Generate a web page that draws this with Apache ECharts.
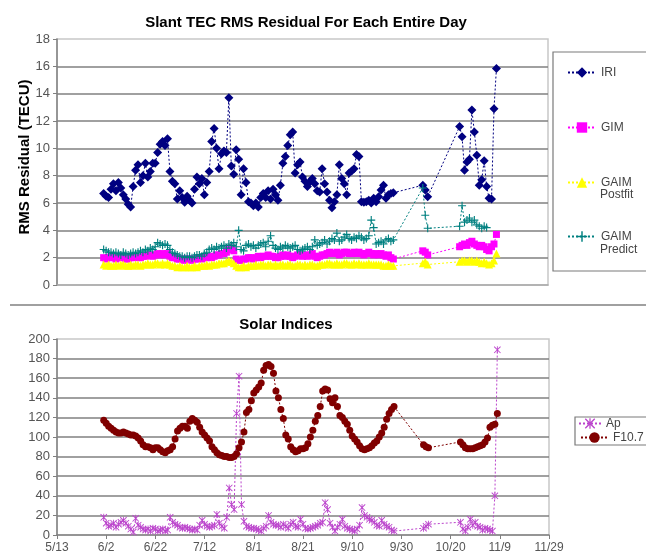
<!DOCTYPE html>
<html>
<head>
<meta charset="utf-8">
<script src="https://cdn.jsdelivr.net/npm/echarts@6/dist/echarts.min.js"></script>
<style>
  html, body { margin: 0; padding: 0; background: #fff; }
  #chart { width: 646px; height: 554px; }
</style>
</head>
<body>
<div id="chart"></div>
<script>
// Day numbers are counted from 5/13; both x axes run 5/13 .. 11/29 in 20-day steps.
const tickLabels = ['5/13', '6/2', '6/22', '7/12', '8/1', '8/21', '9/10', '9/30', '10/20', '11/9', '11/29'];

// Days with data: 6/1 - 9/27, 10/9 - 10/11, 10/24 - 11/8
const dayRanges = [[19, 137], [149, 151], [164, 179]];
const days = [];
dayRanges.forEach(([a, b]) => { for (let d = a; d <= b; d++) days.push(d); });

// Slant TEC RMS residual (TECU)
const iri = [
  6.7, 6.5, 6.4, 7.0, 7.4, 6.9, 7.5, 7.1, 6.6, 6.3,
  5.9, 5.7, 7.2, 8.4, 8.8, 7.5, 8.0, 8.9, 7.9, 8.3,
  8.9, 8.9, 9.7, 10.3, 10.5, 10.2, 10.7, 8.3, 7.6, 7.4,
  6.3, 6.9, 6.4, 6.05, 6.5, 6.2, 6.0, 7.0, 7.9, 7.4,
  7.8, 6.6, 7.5, 8.3, 10.5, 11.45, 10.0, 8.5, 9.6, 9.8,
  9.7, 13.7, 8.7, 8.1, 9.9, 9.2, 6.6, 8.5, 7.5, 6.1,
  6.0, 5.8, 6.0, 5.7, 6.4, 6.7, 6.4, 6.9, 6.3, 7.0,
  6.6, 6.2, 7.3, 8.9, 9.4, 10.2, 11.0, 11.2, 8.2, 8.8,
  9.0, 7.9, 7.6, 7.2, 7.55, 7.8, 7.4, 6.9, 6.8, 8.5,
  7.4, 6.8, 6.2, 5.65, 6.1, 6.6, 8.8, 7.8, 7.4, 6.6,
  8.2, 8.35, 8.5, 9.55, 9.4, 6.1, 6.05, 6.1, 6.2, 6.0,
  6.35, 6.1, 6.45, 6.95, 7.3, 6.35, 6.6, 6.7, 6.75,
  7.3, 6.95, 6.45,
  11.6, 10.85, 8.4, 9.0, 9.2, 12.8, 11.2, 9.5, 7.3, 7.7, 9.1, 7.2, 6.35, 6.3, 12.9, 15.85
];
const gim = [
  2.0, 1.9, 2.0, 2.1, 2.0, 1.9, 2.0, 2.1, 2.0, 1.9,
  1.9, 2.0, 2.0, 2.1, 2.0, 2.0, 2.1, 2.1, 2.2, 2.2,
  2.1, 2.2, 2.3, 2.2, 2.3, 2.2, 2.3, 2.1, 2.0, 2.0,
  1.9, 1.9, 1.9, 1.8, 1.9, 1.9, 1.8, 1.9, 1.9, 2.0,
  1.9, 2.0, 2.0, 2.1, 2.0, 2.1, 2.2, 2.2, 2.3, 2.3,
  2.4, 2.6, 2.7, 2.5, 1.9, 1.8, 1.8, 1.9, 1.9, 2.0,
  2.0, 1.9, 2.0, 2.1, 2.0, 2.1, 2.1, 2.2, 2.1, 2.1,
  2.0, 2.0, 2.1, 2.2, 2.1, 2.2, 2.1, 2.0, 2.1, 2.2,
  2.2, 2.1, 2.2, 2.1, 2.2, 2.3, 2.1, 2.0, 2.1, 2.2,
  2.2, 2.3, 2.4, 2.3, 2.3, 2.4, 2.2, 2.3, 2.4, 2.4,
  2.3, 2.3, 2.4, 2.3, 2.4, 2.3, 2.2, 2.3, 2.4, 2.3,
  2.2, 2.3, 2.2, 2.3, 2.2, 2.1, 2.2, 2.0, 1.9,
  2.5, 2.4, 2.2,
  2.8, 2.9, 3.0, 2.9, 3.1, 3.2, 3.0, 2.9, 2.8, 2.9, 2.8, 2.6, 2.5, 2.8, 3.0, 3.7
];
const gaimPostfit = [
  1.5, 1.4, 1.5, 1.4, 1.4, 1.5, 1.4, 1.5, 1.5, 1.4,
  1.4, 1.5, 1.4, 1.5, 1.5, 1.4, 1.5, 1.5, 1.6, 1.5,
  1.5, 1.6, 1.6, 1.5, 1.6, 1.5, 1.6, 1.5, 1.4, 1.4,
  1.3, 1.4, 1.3, 1.3, 1.4, 1.3, 1.3, 1.4, 1.3, 1.4,
  1.4, 1.4, 1.5, 1.4, 1.5, 1.5, 1.5, 1.6, 1.6, 1.6,
  1.7, 1.8, 1.7, 1.6, 1.4, 1.3, 1.3, 1.4, 1.3, 1.4,
  1.4, 1.4, 1.5, 1.4, 1.5, 1.5, 1.4, 1.5, 1.5, 1.4,
  1.5, 1.4, 1.5, 1.5, 1.4, 1.5, 1.5, 1.4, 1.4, 1.5,
  1.5, 1.4, 1.5, 1.4, 1.5, 1.5, 1.4, 1.4, 1.5, 1.5,
  1.5, 1.6, 1.6, 1.5, 1.5, 1.6, 1.5, 1.5, 1.6, 1.6,
  1.5, 1.5, 1.6, 1.5, 1.6, 1.5, 1.5, 1.5, 1.6, 1.5,
  1.5, 1.5, 1.5, 1.5, 1.4, 1.4, 1.5, 1.4, 1.4,
  1.6, 1.7, 1.5,
  1.7, 1.8, 1.8, 1.7, 1.8, 1.8, 1.7, 1.8, 1.7, 1.6, 1.7, 1.6, 1.5, 1.6, 1.8, 2.3
];
const gaimPredict = [
  2.6, 2.5, 2.4, 2.4, 2.3, 2.4, 2.3, 2.2, 2.4, 2.3,
  2.2, 2.3, 2.4, 2.3, 2.4, 2.5, 2.4, 2.6, 2.5, 2.7,
  2.6, 2.8, 3.1, 3.0, 2.9, 3.0, 2.9, 2.6, 2.4, 2.3,
  2.2, 2.1, 2.1, 2.0, 2.1, 2.1, 2.0, 2.1, 2.2, 2.2,
  2.1, 2.3, 2.4, 2.6, 2.7, 2.6, 2.8, 2.7, 2.8, 2.9,
  2.7, 3.0, 2.9, 3.1, 2.8, 4.0, 2.6, 2.5, 2.9, 3.0,
  2.8, 2.9, 2.7, 2.9, 3.0, 3.1, 2.8, 3.2, 3.6, 2.9,
  2.7, 2.6, 2.8, 2.7, 2.9, 2.8, 2.7, 2.8, 2.9, 2.6,
  2.5, 2.6, 2.7, 2.8, 2.6, 2.8, 3.3, 2.9, 3.0, 3.1,
  3.3, 3.0, 3.2, 3.4, 3.3, 3.8, 3.2, 3.3, 3.5, 3.7,
  3.4, 3.3, 3.5, 3.4, 3.6, 3.5, 3.3, 3.4, 3.6, 4.75,
  4.2, 3.0, 3.1, 3.2, 3.0, 3.3, 3.4, 3.2, 3.3,
  7.1, 5.1, 4.15,
  4.3, 5.8, 4.6, 4.75, 4.9, 4.6, 4.75, 4.4, 4.3, 4.15, 4.3, 4.2, null, null, null, null
];

// Solar indices
const ap = [
  18, 12, 9, 10, 12, 8, 11, 13, 15, 12,
  9, 6, 3, 17, 10, 8, 6, 5, 6, 4,
  7, 6, 4, 5, 6, 4, 5, 18, 13, 11,
  10, 8, 7, 8, 7, 6, 5, 6, 5, 10,
  15, 11, 9, 8, 9, 10, 21, 12, 9, 7,
  18, 48, 31, 26, 124, 162, 31, 14, 9, 8,
  7, 7, 6, 5, 4, 7, 9, 20, 13, 11,
  10, 10, 8, 11, 9, 7, 11, 13, 9, 8,
  16, 11, 7, 6, 7, 8, 9, 10, 12, 13,
  33, 26, 12, 8, 4, 8, 11, 16, 9, 7,
  6, 5, 4, 6, 10, 28, 20, 18, 16, 15,
  13, 10, 9, 15, 11, 9, 8, 5, 4,
  7, 9, 11,
  13, 6, 4, 8, 16, 10, 13, 9, 8, 5, 7, 6, 5, 4, 40, 189
];
const f107 = [
  117, 114, 111, 109, 107, 105, 104, 104, 105, 104,
  103, 102, 102, 101, 99, 96, 92, 90, 90, 89,
  87, 89, 89, 87, 85, 84, 86, 87, 90, 98,
  106, 109, 111, 111, 109, 116, 119, 117, 115, 110,
  105, 102, 99, 96, 90, 87, 84, 82, 81, 80,
  80, 79, 79, 80, 83, 89, 95, 105, 125, 128,
  137, 145, 148, 151, 155, 168, 173, 174, 172, 165,
  147, 140, 128, 119, 102, 98, 90, 87, 85, 86,
  88, 88, 89, 93, 100, 107, 116, 122, 131, 147,
  149, 148, 139, 135, 140, 131, 122, 120, 116, 113,
  107, 101, 98, 95, 91, 88, 87, 88, 89, 91,
  94, 96, 100, 104, 110, 118, 124, 128, 131,
  92, 90, 89,
  95, 92, 89, 88, 88, 88, 89, 90, 91, 92, 95, 99, 110, 112, 113, 124
];

const FONT = 'Arial, "Liberation Sans", sans-serif';
const pts = vals => days.map((d, i) => [d, vals[i]]);

const plusPath = 'path://M4.3,0h1.4v10h-1.4z M0,4.3h10v1.4h-10z';
const starPath = 'path://M0,0.9L0.9,0L10,9.1L9.1,10Z M9.1,0L10,0.9L0.9,10L0,9.1Z M4.4,0h1.2v10h-1.2z';

function lineSeries(name, vals, color, symbol, size, axis) {
  return {
    name, type: 'line', data: pts(vals),
    xAxisIndex: axis, yAxisIndex: axis,
    symbol, symbolSize: size, showAllSymbol: true, connectNulls: true,
    itemStyle: { color },
    lineStyle: { color, width: 1, type: [2, 2] },
    emphasis: { disabled: true },
    animation: false
  };
}

const xBase = {
  type: 'value', min: 0, max: 200, interval: 20,
  splitLine: { show: false }
};

function legendItem(name, left, top, w, fontSize) {
  return {
    data: [name], left, top, orient: 'vertical', padding: 0,
    itemWidth: w, itemHeight: 13, selectedMode: false,
    formatter: n => n.split(' ')[0],
    textStyle: { fontFamily: FONT, fontSize, color: '#444', lineHeight: 12 }
  };
}

const option = {
  animation: false,
  backgroundColor: '#fff',
  grid: [
    { left: 57, right: 98, top: 39, height: 246, show: true, borderColor: '#c8c8c8', borderWidth: 1.5 },
    { left: 57, right: 97, top: 339, height: 196, show: true, borderColor: '#c8c8c8', borderWidth: 1.5 }
  ],
  xAxis: [
    Object.assign({}, xBase, {
      gridIndex: 0,
      axisLine: { show: true, lineStyle: { color: '#a8a8a8', width: 1.5 } },
      axisTick: { show: false }, axisLabel: { show: false }
    }),
    Object.assign({}, xBase, {
      gridIndex: 1,
      axisLine: { show: true, lineStyle: { color: '#808080', width: 1.5 } },
      axisTick: { show: true, length: 4, lineStyle: { color: '#808080' } },
      axisLabel: {
        color: '#555', fontSize: 12, fontFamily: FONT, margin: 7,
        formatter: v => tickLabels[Math.round(v / 20)]
      }
    })
  ],
  yAxis: [
    {
      type: 'value', gridIndex: 0, min: 0, max: 18, interval: 2,
      axisLine: { show: true, lineStyle: { color: '#808080', width: 1.5 } },
      axisTick: { show: true, length: 4, lineStyle: { color: '#808080' } },
      axisLabel: { color: '#555', fontSize: 13, fontFamily: FONT, margin: 7 },
      splitLine: { show: true, showMinLine: false, showMaxLine: false, lineStyle: { color: '#808080', width: 1.6 } }
    },
    {
      type: 'value', gridIndex: 1, min: 0, max: 200, interval: 20,
      axisLine: { show: true, lineStyle: { color: '#808080', width: 1.5 } },
      axisTick: { show: true, length: 4, lineStyle: { color: '#808080' } },
      axisLabel: { color: '#555', fontSize: 13, fontFamily: FONT, margin: 7 },
      splitLine: { show: true, showMinLine: false, showMaxLine: false, lineStyle: { color: '#808080', width: 1.6 } }
    }
  ],
  legend: [
    legendItem('IRI', 567, 66.5, 28, 12),
    legendItem('GIM', 567, 121.5, 28, 12),
    legendItem('GAIM Postfit', 567, 176.5, 28, 12),
    legendItem('GAIM Predict', 567, 230.5, 28, 12),
    legendItem('Ap', 578, 417.5, 22, 12),
    legendItem('F10.7', 580, 431.5, 27, 12)
  ],
  series: [
    lineSeries('IRI', iri, '#000080', 'diamond', 9, 0),
    lineSeries('GIM', gim, '#ff00ff', 'rect', 7, 0),
    lineSeries('GAIM Postfit', gaimPostfit, '#ffff00', 'triangle', 8, 0),
    lineSeries('GAIM Predict', gaimPredict, '#008080', plusPath, 8, 0),
    lineSeries('Ap', ap, '#bb44cc', starPath, 7, 1),
    lineSeries('F10.7', f107, '#800000', 'circle', 7, 1)
  ],
  graphic: [
    { type: 'text', x: 306, y: 23, style: { text: 'Slant TEC RMS Residual For Each Entire Day', align: 'center', verticalAlign: 'middle', font: 'bold 15px ' + FONT, fill: '#000' } },
    { type: 'text', x: 25, y: 157, rotation: Math.PI / 2, style: { text: 'RMS Residual (TECU)', align: 'center', verticalAlign: 'middle', font: 'bold 15px ' + FONT, fill: '#000' } },
    { type: 'text', x: 286, y: 325, style: { text: 'Solar Indices', align: 'center', verticalAlign: 'middle', font: 'bold 15px ' + FONT, fill: '#000' } },
    { type: 'rect', shape: { x: 10, y: 304, width: 640, height: 2 }, style: { fill: '#a0a0a0' } },
    { type: 'rect', shape: { x: 553, y: 52, width: 100, height: 219 }, style: { fill: 'none', stroke: '#7a7a7a', lineWidth: 1.2 } },
    { type: 'rect', shape: { x: 575, y: 417, width: 80, height: 28 }, style: { fill: 'none', stroke: '#7a7a7a', lineWidth: 1.2 } },
    { type: 'text', x: 600, y: 195, style: { text: 'Postfit', align: 'left', verticalAlign: 'middle', font: '12px ' + FONT, fill: '#444' } },
    { type: 'text', x: 600, y: 250, style: { text: 'Predict', align: 'left', verticalAlign: 'middle', font: '12px ' + FONT, fill: '#444' } }
  ]
};

const chart = echarts.init(document.getElementById('chart'));
chart.setOption(option);
</script>
</body>
</html>
